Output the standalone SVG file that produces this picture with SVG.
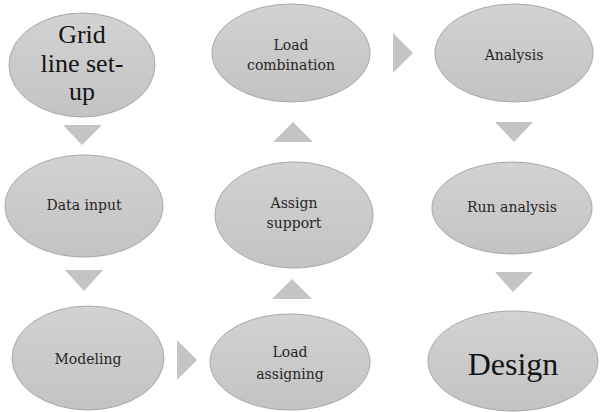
<svg xmlns="http://www.w3.org/2000/svg" width="600" height="412" viewBox="0 0 600 412">
<defs>
<linearGradient id="g" x1="0" y1="0" x2="0" y2="1">
<stop offset="0" stop-color="#d2d2d2"/>
<stop offset="1" stop-color="#c3c3c3"/>
</linearGradient>
</defs>
<style>
.n{fill:url(#g);stroke:#a8a8a8;stroke-width:1}
.a{fill:#c4c4c4;stroke:none}
.t{font-family:"DejaVu Serif","Liberation Serif",serif;font-size:14px;fill:#262626;text-anchor:middle}
.b{font-family:"Liberation Serif","Times New Roman",serif;fill:#141414;text-anchor:middle}
</style>
<rect width="600" height="412" fill="#ffffff"/>
<g id="connectors">
<polygon class="a" points="63,125 102,125 82,145"/>
<polygon class="a" points="65,270 103,270 84,291"/>
<polygon class="a" points="177,340 177,380 197,360"/>
<polygon class="a" points="272,299 312,299 292,279"/>
<polygon class="a" points="273,142 313,142 293,122"/>
<polygon class="a" points="393,33 393,73 413,53"/>
<polygon class="a" points="495,122 533,122 514,142"/>
<polygon class="a" points="495,272 533,272 513,292"/>
</g>
<g id="grid">
<ellipse class="n" cx="82" cy="65" rx="73" ry="52"/>
<text class="b" font-size="26" x="82" y="43">Grid</text>
<text class="b" font-size="26" x="82" y="72">line set-</text>
<text class="b" font-size="26" x="82" y="100">up</text>
</g>
<g id="datainput">
<ellipse class="n" cx="84" cy="206" rx="79" ry="51"/>
<text class="t" x="84" y="210">Data input</text>
</g>
<g id="modeling">
<ellipse class="n" cx="88" cy="358" rx="76" ry="52"/>
<text class="t" x="88" y="364">Modeling</text>
</g>
<g id="loadassigning">
<ellipse class="n" cx="290" cy="362" rx="80" ry="48"/>
<text class="t" x="290" y="357">Load</text>
<text class="t" x="290" y="379">assigning</text>
</g>
<g id="assignsupport">
<ellipse class="n" cx="294" cy="215" rx="79" ry="53"/>
<text class="t" x="294" y="208">Assign</text>
<text class="t" x="294" y="228">support</text>
</g>
<g id="loadcombination">
<ellipse class="n" cx="291" cy="53" rx="79" ry="49"/>
<text class="t" x="291" y="50">Load</text>
<text class="t" x="291" y="70">combination</text>
</g>
<g id="analysis">
<ellipse class="n" cx="514" cy="53" rx="79" ry="49"/>
<text class="t" x="514" y="60">Analysis</text>
</g>
<g id="runanalysis">
<ellipse class="n" cx="512" cy="208" rx="80" ry="46"/>
<text class="t" x="512" y="212">Run analysis</text>
</g>
<g id="design">
<ellipse class="n" cx="513" cy="361" rx="85" ry="50"/>
<text class="b" font-size="32" x="513" y="375">Design</text>
</g>
</svg>
